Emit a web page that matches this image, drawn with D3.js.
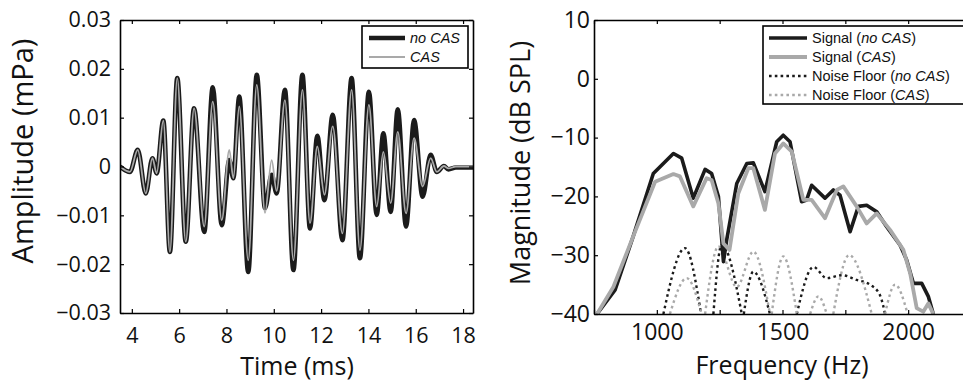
<!DOCTYPE html>
<html>
<head>
<meta charset="utf-8">
<script src="https://cdn.jsdelivr.net/npm/d3@7"></script>
<style>
  html, body { margin: 0; padding: 0; background: #fff; }
  svg { display: block; }
</style>
</head>
<body>
<script>
// Waveform (left): extrema, time in ms
const timeMs = [3.5, 3.92, 4.25, 4.59, 4.87, 5.05, 5.33, 5.61, 5.92, 6.28, 6.63, 7.06, 7.42, 7.8, 8.12, 8.29, 8.54, 8.92, 9.28, 9.63, 9.91, 10.12, 10.47, 10.83, 11.21, 11.53, 11.84, 12.14, 12.49, 12.9, 13.29, 13.64, 14.02, 14.35, 14.63, 14.94, 15.24, 15.59, 15.93, 16.29, 16.63, 16.89, 17.19, 17.38, 17.7, 18.42]
const ampNoCas = [0, -0.0011, 0.0034, -0.0055, 0.0017, -0.0014, 0.0094, -0.0175, 0.0181, -0.0154, 0.0119, -0.0134, 0.0162, -0.012, 0.0013, -0.0024, 0.0143, -0.0216, 0.0188, -0.0085, -0.0017, -0.0055, 0.0157, -0.0212, 0.0188, -0.0127, 0.0063, -0.0069, 0.0106, -0.0151, 0.0181, -0.0188, 0.0153, -0.0099, 0.0068, -0.0093, 0.0117, -0.0123, 0.0095, -0.0062, 0.0024, -0.0011, 0.0001, -0.0006, -0.0002, -0.0002]
const ampCas = [0, -0.0011, 0.0034, -0.0055, 0.0017, -0.0014, 0.0094, -0.0175, 0.0181, -0.0154, 0.0119, -0.0123, 0.0133, -0.011, 0.0034, -0.0024, 0.0123, -0.0192, 0.0167, -0.0095, 0.0013, -0.005, 0.0136, -0.0192, 0.0157, -0.0116, 0.0041, -0.0058, 0.0082, -0.0137, 0.0157, -0.0171, 0.0126, -0.0082, 0.003, -0.0075, 0.0071, -0.0096, 0.0058, -0.0041, 0.0017, -0.0011, 0.0001, -0.0004, 0, 0]
const timeTicks = [4, 6, 8, 10, 12, 14, 16, 18]
const ampTicks = [-0.03, -0.02, -0.01, 0, 0.01, 0.02, 0.03]

// Spectrum (right): signal magnitudes in dB SPL
const freqNoCas = [762, 834, 906, 986, 1066, 1099, 1145, 1192, 1218, 1245, 1265, 1278, 1318, 1358, 1384, 1430, 1477, 1503, 1530, 1576, 1596, 1616, 1669, 1702, 1729, 1769, 1802, 1835, 1875, 1915, 1968, 1994, 2021, 2054, 2080, 2100]
const sigNoCas = [-40, -35.9, -26.8, -16.1, -12.7, -13.5, -20.3, -15.4, -16.1, -20, -31.1, -27.4, -17.8, -14.4, -14.3, -19.2, -10.7, -9.6, -10.7, -20.9, -20.6, -18.1, -20.3, -18.9, -19.8, -26, -21.7, -21.5, -22.6, -25.2, -28.3, -30.8, -34.8, -34.8, -37, -40]
const freqCas = [762, 827, 906, 993, 1066, 1092, 1145, 1198, 1218, 1245, 1265, 1289, 1324, 1364, 1384, 1430, 1470, 1503, 1537, 1583, 1616, 1669, 1716, 1742, 1795, 1835, 1875, 1928, 1981, 2008, 2034, 2060, 2080, 2100]
const sigCas = [-40, -35.4, -26.8, -17.5, -16.2, -16.6, -21.7, -16.9, -17.2, -21.2, -28, -29.1, -19.5, -15.2, -15.2, -22.3, -12.7, -11, -12.4, -20.6, -20.6, -23.7, -18.9, -18.3, -21.7, -24.6, -22.9, -25.7, -29.1, -33.1, -39, -39.6, -38.2, -40]
// Noise floors: lobes separated by null (below the axis floor)
const noiseNoCas = [[1026, -40], [1112, -28.8], [1176, -40], null, [1225, -40], [1258, -28.2], [1338, -40], null, [1346, -40], [1384, -32.8], [1450, -40], null, [1557, -40], [1623, -32], [1676, -33.9], [1736, -33.4], [1795, -34.2], [1848, -35], [1888, -36.8], [1908, -40]]
const noiseCas = [[1052, -40], [1119, -33.9], [1178, -40], null, [1192, -40], [1245, -28.5], [1318, -35.4], [1384, -29.4], [1450, -40], null, [1457, -40], [1503, -30.2], [1557, -40], null, [1610, -40], [1643, -37], [1676, -40], null, [1702, -40], [1765, -30], [1855, -40], null, [1908, -40], [1948, -35], [1998, -40]]
const freqTicks = [750, 1000, 1250, 1500, 1750, 2000]
const freqLabels = [1000, 1500, 2000]
const dbTicks = [-40, -30, -20, -10, 0, 10]

const W = 963, H = 381
const BLACK = "#1b1b1b", GRAY = "#a9a9a9"
const FONT = "'Open Sans', sans-serif"
const LEGEND_FONT = "'Liberation Sans', Arial, sans-serif"

// Create SVG
const svg = d3.select("body").append("svg")
  .attr("xmlns", "http://www.w3.org/2000/svg")
  .attr("width", W)
  .attr("height", H)

/** Draws an inward-tick box frame with labels on left/bottom. */
function frame(x, y, opt) {
  const [x0, x1] = x.range(), [y0, y1] = [y.range()[1], y.range()[0]]
  const style = (g, size) => g
    .call(g => g.select(".domain").attr("stroke", "#000").attr("stroke-width", 1.6))
    .call(g => g.selectAll(".tick line").attr("stroke", "#000").attr("stroke-width", 1.2))
    .call(g => g.selectAll("text").attr("fill", "#111").style("font-family", FONT).style("font-size", `${size}px`))
  svg.append("g").attr("transform", `translate(0,${y1})`)
    .call(d3.axisBottom(x).tickValues(opt.xTicks).tickSizeInner(-4).tickSizeOuter(0).tickPadding(opt.xPad).tickFormat(opt.xFormat))
    .call(g => style(g, opt.fontsize))
  svg.append("g").attr("transform", `translate(0,${y0})`)
    .call(d3.axisTop(x).tickValues(opt.xTicks).tickSizeInner(-4).tickSizeOuter(0).tickFormat(""))
    .call(g => style(g, opt.fontsize))
  svg.append("g").attr("transform", `translate(${x0},0)`)
    .call(d3.axisLeft(y).tickValues(opt.yTicks).tickSizeInner(-4).tickSizeOuter(0).tickPadding(opt.yPad).tickFormat(opt.yFormat))
    .call(g => style(g, opt.fontsize))
  if (opt.right) {
    svg.append("g").attr("transform", `translate(${x1},0)`)
      .call(d3.axisRight(y).tickValues(opt.yTicks).tickSizeInner(-4).tickSizeOuter(0).tickFormat(""))
      .call(g => style(g, opt.fontsize))
  }
}

// ---------- Left panel: waveform ----------
const xL = d3.scaleLinear().domain([3.5, 18.42]).range([120, 473])
const yL = d3.scaleLinear().domain([-0.03, 0.03]).range([313, 20])

svg.append("clipPath").attr("id", "clipL").append("rect")
  .attr("x", 120).attr("y", 20).attr("width", 353).attr("height", 293)

const wave = d3.line().curve(d3.curveMonotoneX).x(d => xL(d[0])).y(d => yL(d[1]))
svg.append("path")
  .datum(timeMs.map((t, i) => [t, ampNoCas[i]]))
  .attr("clip-path", "url(#clipL)")
  .attr("d", wave)
  .attr("fill", "none").attr("stroke", BLACK).attr("stroke-width", 4.6).attr("stroke-linejoin", "round")
svg.append("path")
  .datum(timeMs.map((t, i) => [t, ampCas[i]]))
  .attr("clip-path", "url(#clipL)")
  .attr("d", wave)
  .attr("fill", "none").attr("stroke", GRAY).attr("stroke-width", 1.8).attr("stroke-linejoin", "round")

frame(xL, yL, {
  xTicks: timeTicks, yTicks: ampTicks, xPad: 15, yPad: 9, fontsize: 21.5, right: true,
  xFormat: d3.format("d"),
  yFormat: d => d === 0 ? "0" : d3.format(".2f")(d),
})

svg.append("text")
  .attr("x", 297).attr("y", 375)
  .attr("text-anchor", "middle")
  .style("font-family", FONT).style("font-size", "25px").attr("fill", "#111")
  .text("Time (ms)")
svg.append("text")
  .attr("transform", "translate(33,151) rotate(-90)")
  .attr("text-anchor", "middle")
  .style("font-family", FONT).style("font-size", "29px").attr("fill", "#111")
  .text("Amplitude (mPa)")

// Left legend
const legL = svg.append("g").attr("transform", "translate(362,26)")
legL.append("rect").attr("width", 106).attr("height", 42)
  .attr("fill", "#fff").attr("stroke", "#000").attr("stroke-width", 1.6)
const itemsL = [
  { name: "no CAS", color: BLACK, width: 4.6 },
  { name: "CAS", color: GRAY, width: 1.8 },
]
itemsL.forEach((d, i) => {
  legL.append("line").attr("x1", 7).attr("x2", 43).attr("y1", 12 + i * 19).attr("y2", 12 + i * 19)
    .attr("stroke", d.color).attr("stroke-width", d.width)
  legL.append("text").attr("x", 48).attr("y", 12 + i * 19).attr("dy", "0.35em")
    .style("font-family", LEGEND_FONT).style("font-size", "14.5px").style("font-style", "italic")
    .attr("fill", "#111").text(d.name)
})

// ---------- Right panel: spectrum ----------
const xR = d3.scaleLinear().domain([750, 2250]).range([594, 971])
const yR = d3.scaleLinear().domain([-40, 10]).range([314, 20])

svg.append("clipPath").attr("id", "clipR").append("rect")
  .attr("x", 594).attr("y", 20).attr("width", 380).attr("height", 294)

const spec = d3.line().x(d => xR(d[0])).y(d => yR(d[1]))
const lobe = d3.line().defined(d => d !== null).curve(d3.curveMonotoneX).x(d => xR(d[0])).y(d => yR(d[1]))

svg.append("path").datum(noiseNoCas)
  .attr("clip-path", "url(#clipR)").attr("d", lobe)
  .attr("fill", "none").attr("stroke", BLACK).attr("stroke-width", 2.4).attr("stroke-dasharray", "2.6,3.2")
svg.append("path").datum(noiseCas)
  .attr("clip-path", "url(#clipR)").attr("d", lobe)
  .attr("fill", "none").attr("stroke", GRAY).attr("stroke-width", 2.4).attr("stroke-dasharray", "2.6,3.2")
svg.append("path").datum(freqNoCas.map((f, i) => [f, sigNoCas[i]]))
  .attr("clip-path", "url(#clipR)").attr("d", spec)
  .attr("fill", "none").attr("stroke", BLACK).attr("stroke-width", 3.6).attr("stroke-linejoin", "round")
svg.append("path").datum(freqCas.map((f, i) => [f, sigCas[i]]))
  .attr("clip-path", "url(#clipR)").attr("d", spec)
  .attr("fill", "none").attr("stroke", GRAY).attr("stroke-width", 3.8).attr("stroke-linejoin", "round")

frame(xR, yR, {
  xTicks: freqTicks, yTicks: dbTicks, xPad: 10, yPad: 4, fontsize: 23, right: false,
  xFormat: d => freqLabels.includes(d) ? d : "",
  yFormat: d3.format("d"),
})

svg.append("text")
  .attr("x", 782).attr("y", 373.5)
  .attr("text-anchor", "middle")
  .style("font-family", FONT).style("font-size", "25px").attr("fill", "#111")
  .text("Frequency (Hz)")
svg.append("text")
  .attr("transform", "translate(530,163) rotate(-90)")
  .attr("text-anchor", "middle")
  .style("font-family", FONT).style("font-size", "27px").attr("fill", "#111")
  .text("Magnitude (dB SPL)")

// Right legend
const legR = svg.append("g").attr("transform", "translate(763,26)")
legR.append("rect").attr("width", 204).attr("height", 78)
  .attr("fill", "#fff").attr("stroke", "#000").attr("stroke-width", 1.6)
const itemsR = [
  { pre: "Signal (", it: "no CAS", color: BLACK, width: 3.6, dash: null },
  { pre: "Signal (", it: "CAS", color: GRAY, width: 3.8, dash: null },
  { pre: "Noise Floor (", it: "no CAS", color: BLACK, width: 2.4, dash: "2.6,3.2" },
  { pre: "Noise Floor (", it: "CAS", color: GRAY, width: 2.4, dash: "2.6,3.2" },
]
itemsR.forEach((d, i) => {
  const y = 12 + i * 19
  legR.append("line").attr("x1", 6).attr("x2", 44).attr("y1", y).attr("y2", y)
    .attr("stroke", d.color).attr("stroke-width", d.width).attr("stroke-dasharray", d.dash)
  const t = legR.append("text").attr("x", 49).attr("y", y).attr("dy", "0.35em")
    .style("font-family", LEGEND_FONT).style("font-size", "14.5px").attr("fill", "#111")
  t.append("tspan").text(d.pre)
  t.append("tspan").style("font-style", "italic").text(d.it)
  t.append("tspan").text(")")
})
</script>
</body>
</html>
